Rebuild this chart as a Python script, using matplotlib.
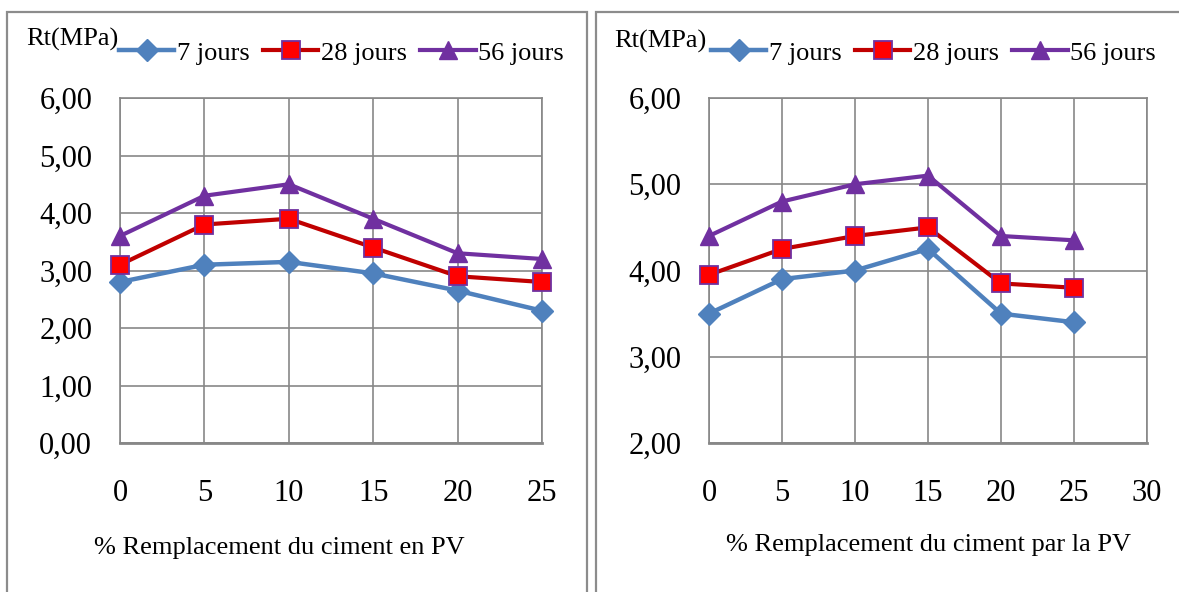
import matplotlib
matplotlib.use("Agg")
import matplotlib.pyplot as plt
from matplotlib.patches import Rectangle

# ---- data ----
x_pct = [0, 5, 10, 15, 20, 25]
series_names = ["7 jours", "28 jours", "56 jours"]

left_7 = [2.80, 3.10, 3.15, 2.95, 2.65, 2.30]
left_28 = [3.10, 3.80, 3.90, 3.40, 2.90, 2.80]
left_56 = [3.60, 4.30, 4.50, 3.90, 3.30, 3.20]

right_7 = [3.50, 3.90, 4.00, 4.25, 3.50, 3.40]
right_28 = [3.95, 4.25, 4.40, 4.50, 3.85, 3.80]
right_56 = [4.40, 4.80, 5.00, 5.10, 4.40, 4.35]

left_yticks = [0, 1, 2, 3, 4, 5, 6]
right_yticks = [2, 3, 4, 5, 6]
left_xticks = [0, 5, 10, 15, 20, 25]
right_xticks = [0, 5, 10, 15, 20, 25, 30]

left_xlabel = "% Remplacement du ciment en PV"
right_xlabel = "% Remplacement du ciment par la PV"
ylabel = "Rt(MPa)"

# ---- style ----
plt.rcParams['font.family'] = ['Liberation Serif', 'DejaVu Serif']
W, H = 1179, 592
fig = plt.figure(figsize=(W / 100, H / 100), dpi=100)

def fx(px):
    return px / W

def fy(py):
    return 1 - py / H

grid_col = "#878787"
blue = "#4F81BD"
red_line = "#C00000"
red_face = "#FF0000"
purple = "#7030A0"

# panel borders
fig.patches.append(Rectangle((fx(7), fy(600)), fx(587 - 7), fy(12) - fy(600),
                             transform=fig.transFigure, fill=False,
                             edgecolor="#8C8C8C", linewidth=1.6))
fig.patches.append(Rectangle((fx(596), fy(600)), fx(1190 - 596), fy(12) - fy(600),
                             transform=fig.transFigure, fill=False,
                             edgecolor="#8C8C8C", linewidth=1.6))

def make_axes(x0, x1, y0, y1):
    return fig.add_axes([fx(x0), fy(y1), fx(x1 - x0), fy(y0) - fy(y1)])

def fmt(v):
    return f"{v:.2f}".replace(".", ",")

def draw(ax, s7, s28, s56, xticks, yticks):
    l1, = ax.plot(x_pct, s7, color=blue, lw=3.2, marker="D", ms=11.5,
                  mfc=blue, mec=blue, label=series_names[0], zorder=3)
    l2, = ax.plot(x_pct, s28, color=red_line, lw=3.0, marker="s", ms=13.5,
                  mfc=red_face, mec=purple, mew=1.3, label=series_names[1], zorder=4)
    l3, = ax.plot(x_pct, s56, color=purple, lw=3.0, marker="^", ms=13,
                  mfc=purple, mec=purple, label=series_names[2], zorder=5)
    ax.set_xlim(xticks[0], xticks[-1])
    ax.set_ylim(yticks[0], yticks[-1])
    ax.set_xticks(xticks)
    ax.set_yticks(yticks)
    ax.set_yticklabels([fmt(v) for v in yticks])
    ax.set_xticklabels([str(v) for v in xticks])
    ax.grid(True, color=grid_col, lw=1.2)
    ax.set_axisbelow(True)
    for s in ax.spines.values():
        s.set_color(grid_col)
        s.set_linewidth(1.2)
    ax.spines["bottom"].set_linewidth(2.0)
    ax.tick_params(axis="both", length=0, labelsize=22)
    ax.tick_params(axis="x", pad=26)
    ax.tick_params(axis="y", pad=20)
    for l in (l1, l2, l3):
        l.set_clip_on(False)
    return [l1, l2, l3]

axL = make_axes(120, 542, 98, 443)
hL = draw(axL, left_7, left_28, left_56, left_xticks, left_yticks)
axR = make_axes(709, 1147, 98, 443)
hR = draw(axR, right_7, right_28, right_56, right_xticks, right_yticks)

# legends
for ax, h, xl in ((axL, hL, 119), (axR, hR, 711)):
    fig.legend(h, series_names, loc="center left",
               bbox_to_anchor=(fx(xl), fy(53)), ncol=3, frameon=False,
               fontsize=19, handlelength=2.1, handletextpad=0.1,
               columnspacing=0.5, borderaxespad=0, borderpad=0)

# y label (Rt) text
fig.text(fx(26), fy(39), ylabel, fontsize=19, ha="left", va="center")
fig.text(fx(614), fy(41), ylabel, fontsize=19, ha="left", va="center")

# x labels
fig.text(fx(279), fy(548), left_xlabel, fontsize=19, ha="center", va="center")
fig.text(fx(929), fy(545), right_xlabel, fontsize=19, ha="center", va="center")

fig.savefig("out.png", dpi=100)
